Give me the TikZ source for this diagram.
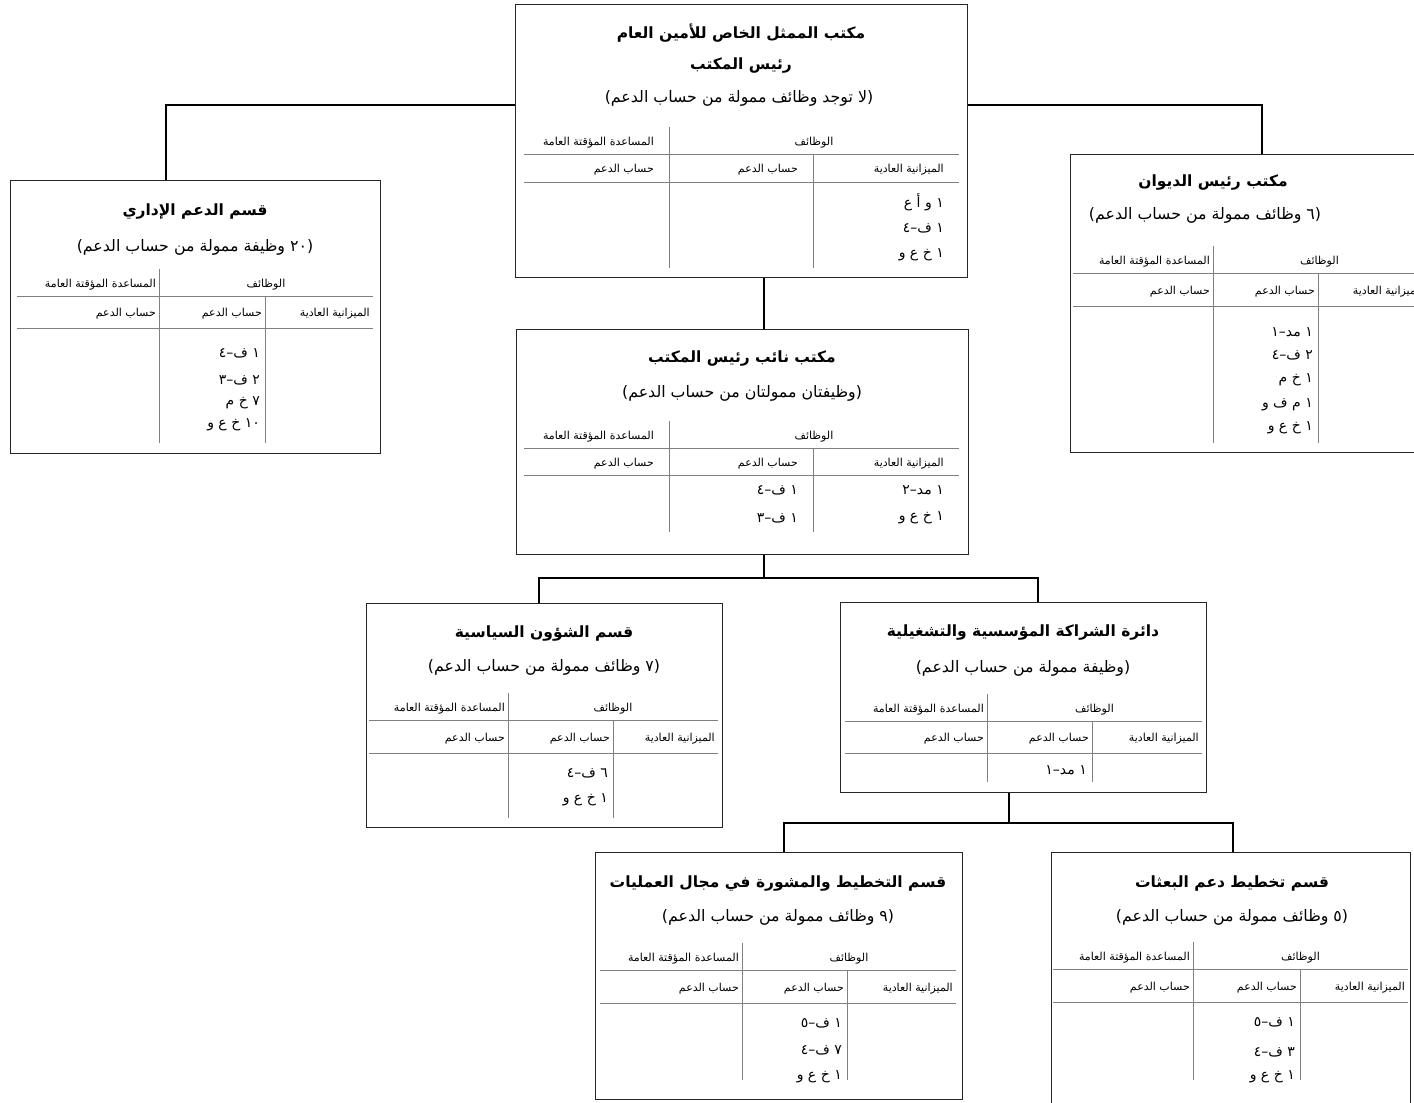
\documentclass[tikz,border=0pt]{standalone}
\usepackage{fontspec}
\TeXXeTstate=1
\newfontfamily\arabicfont[Script=Arabic]{DejaVu Sans}
\newcommand\ar[1]{\beginR #1\endR}
\newcommand\paren[1]{)\ar{#1}(}
\tikzset{
  box/.style={draw=black!85, line width=1.2pt, inner sep=0pt, anchor=north west},
  link/.style={draw=black, line width=1.6pt},
  rulel/.style={draw=black!50, line width=0.8pt},
  ttl/.style={font=\arabicfont\bfseries\fontsize{15.5}{18}\selectfont, inner sep=0pt},
  subt/.style={font=\arabicfont\fontsize{15.8}{18}\selectfont, inner sep=0pt},
  hdr/.style={font=\arabicfont\fontsize{11}{13}\selectfont, inner sep=0pt},
  entr/.style={font=\arabicfont\fontsize{14}{16}\selectfont, inner sep=0pt, anchor=east},
}
% #1 name, #2 left, #3 right, #4 col1, #5 col2, #6 h1, #7 h2, #8 bottom, #9 pad
\newcommand\tbl[9]{%
  \draw[rulel] (#4,#6-27) -- (#4,#8);
  \draw[rulel] (#2,#6) -- (#3,#6);
  \draw[rulel] (#2,#7) -- (#3,#7);
  \draw[rulel] (#5,#6) -- (#5,#8);
  \node[hdr, anchor=east] (#1ha) at (#4-#9,#6-11) {\ar{المساعدة المؤقتة العامة}};
  \node[hdr] (#1hb) at ({(#4+#3)/2},#6-11) {\ar{الوظائف}};
  \node[hdr, anchor=east] (#1hc) at (#4-#9,{(#6+#7)/2+2}) {\ar{حساب الدعم}};
  \node[hdr, anchor=east] (#1hd) at (#5-#9,{(#6+#7)/2+2}) {\ar{حساب الدعم}};
  \node[hdr, anchor=east] (#1he) at (#3-#9,{(#6+#7)/2+2}) {\ar{الميزانية العادية}};
}
\begin{document}
\begin{tikzpicture}[x=1pt,y=-1pt]
\useasboundingbox (0,0) rectangle (1414,1103);
\clip (0,0) rectangle (1414,1103);
\fill[white] (0,0) rectangle (1414,1103);

% boxes
\node[box, minimum width=452pt, minimum height=273pt] (srsg) at (515,4) {};
\node[box, minimum width=370pt, minimum height=273pt] (admin) at (10,180) {};
\node[box, minimum width=363pt, minimum height=298pt] (cos) at (1070,154) {};
\node[box, minimum width=452pt, minimum height=225pt] (dep) at (516,329) {};
\node[box, minimum width=356pt, minimum height=224pt] (pol) at (366,603) {};
\node[box, minimum width=366pt, minimum height=190pt] (part) at (840,602) {};
\node[box, minimum width=367pt, minimum height=247pt] (ops) at (595,852) {};
\node[box, minimum width=359pt, minimum height=260pt] (mis) at (1051,852) {};

% connectors
\coordinate (jl) at (166,105);
\coordinate (jr) at (1262,105);
\coordinate (jd) at (764,300);
\coordinate (j2) at (764,578);
\coordinate (j2l) at (539,578);
\coordinate (j2r) at (1038,578);
\coordinate (j3) at (1009,823);
\coordinate (j3l) at (784,823);
\coordinate (j3r) at (1233,823);
\draw[link] (srsg.west |- jl) -- (jl) -- (admin.north -| jl);
\draw[link] (srsg.east |- jr) -- (jr) -- (cos.north -| jr);
\draw[link] (srsg.south -| jd) -- (dep.north -| jd);
\draw[link] (dep.south -| j2) -- (j2);
\draw[link] (pol.north -| j2l) -- (j2l) -- (j2r) -- (part.north -| j2r);
\draw[link] (part.south -| j3) -- (j3);
\draw[link] (ops.north -| j3l) -- (j3l) -- (j3r) -- (mis.north -| j3r);

% ---- SRSG
\node[ttl] (srsgt1) at (741,33) {\ar{مكتب الممثل الخاص للأمين العام}};
\node[ttl] (srsgt2) at (741,66) {\ar{رئيس المكتب}};
\node[subt] (srsgs) at (739,98) {\paren{لا توجد وظائف ممولة من حساب الدعم}};
\tbl{srsg}{524}{959}{669}{813}{154}{182}{268}{15}
\node[entr] (srsge1) at (944,202) {\ar{١ و أ ع}};
\node[entr] (srsge2) at (944,228) {\ar{١ ف–٤}};
\node[entr] (srsge3) at (944,255) {\ar{١ خ ع و}};

% ---- Admin
\node[ttl] (admint) at (195,212) {\ar{قسم الدعم الإداري}};
\node[subt] (admins) at (195,247) {\paren{٢٠ وظيفة ممولة من حساب الدعم}};
\tbl{admin}{17}{373}{159}{265}{296}{328}{443}{3}
\node[entr] (admine1) at (260,353) {\ar{١ ف–٤}};
\node[entr] (admine2) at (260,380) {\ar{٢ ف–٣}};
\node[entr] (admine3) at (260,403) {\ar{٧ خ م}};
\node[entr] (admine4) at (260,425) {\ar{١٠ خ ع و}};

% ---- Chief of staff
\node[ttl] (cost) at (1213,183) {\ar{مكتب رئيس الديوان}};
\node[subt] (coss) at (1205,215) {\paren{٦ وظائف ممولة من حساب الدعم}};
\tbl{cos}{1073}{1426}{1213}{1318}{273}{306}{443}{3}
\node[entr] (cose1) at (1313,332) {\ar{١ مد–١}};
\node[entr] (cose2) at (1313,355) {\ar{٢ ف–٤}};
\node[entr] (cose3) at (1313,380) {\ar{١ خ م}};
\node[entr] (cose4) at (1313,405) {\ar{١ م ف و}};
\node[entr] (cose5) at (1313,428) {\ar{١ خ ع و}};

% ---- Deputy
\node[ttl] (dept) at (742,358) {\ar{مكتب نائب رئيس المكتب}};
\node[subt] (deps) at (742,393) {\paren{وظيفتان ممولتان من حساب الدعم}};
\tbl{dep}{524}{959}{669}{813}{448}{475}{532}{15}
\node[entr] (depe1) at (798,490) {\ar{١ ف–٤}};
\node[entr] (depe2) at (798,518) {\ar{١ ف–٣}};
\node[entr] (depe3) at (944,490) {\ar{١ مد–٢}};
\node[entr] (depe4) at (944,518) {\ar{١ خ ع و}};

% ---- Political
\node[ttl] (polt) at (544,633) {\ar{قسم الشؤون السياسية}};
\node[subt] (pols) at (544,667) {\paren{٧ وظائف ممولة من حساب الدعم}};
\tbl{pol}{369}{718}{508}{613}{720}{753}{818}{3}
\node[entr] (pole1) at (608,773) {\ar{٦ ف–٤}};
\node[entr] (pole2) at (608,800) {\ar{١ خ ع و}};

% ---- Partnership
\node[ttl] (partt) at (1023,632) {\ar{دائرة الشراكة المؤسسية والتشغيلية}};
\node[subt] (parts) at (1023,668) {\paren{وظيفة ممولة من حساب الدعم}};
\tbl{part}{845}{1202}{987}{1092}{721}{753}{782}{3}
\node[entr] (parte1) at (1087,770) {\ar{١ مد–١}};

% ---- Operations planning
\node[ttl] (opst) at (778,883) {\ar{قسم التخطيط والمشورة في مجال العمليات}};
\node[subt] (opss) at (778,917) {\paren{٩ وظائف ممولة من حساب الدعم}};
\tbl{ops}{600}{956}{742}{847}{970}{1003}{1080}{3}
\node[entr] (opse1) at (842,1023) {\ar{١ ف–٥}};
\node[entr] (opse2) at (842,1050) {\ar{٧ ف–٤}};
\node[entr] (opse3) at (842,1077) {\ar{١ خ ع و}};

% ---- Mission support planning
\node[ttl] (mist) at (1232,883) {\ar{قسم تخطيط دعم البعثات}};
\node[subt] (miss) at (1232,917) {\paren{٥ وظائف ممولة من حساب الدعم}};
\tbl{mis}{1053}{1408}{1193}{1300}{969}{1002}{1080}{3}
\node[entr] (mise1) at (1295,1022) {\ar{١ ف–٥}};
\node[entr] (mise2) at (1295,1052) {\ar{٣ ف–٤}};
\node[entr] (mise3) at (1295,1077) {\ar{١ خ ع و}};
\end{tikzpicture}
\end{document}
